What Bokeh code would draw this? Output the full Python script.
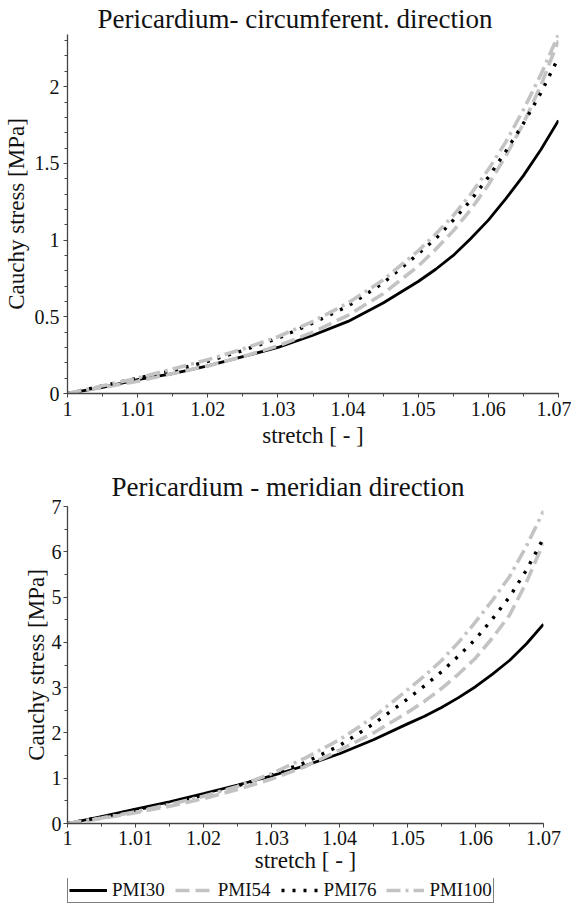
from bokeh.plotting import figure
from bokeh.models import Legend, LegendItem, Range1d, SingleIntervalTicker
from bokeh.layouts import column
from bokeh.embed import file_html
from bokeh.resources import INLINE

# ---------------- data ----------------
stretch = [1.0, 1.005, 1.01, 1.015, 1.02, 1.025, 1.03, 1.035, 1.04, 1.045,
           1.05, 1.0525, 1.055, 1.0575, 1.06, 1.0625, 1.065, 1.0675, 1.07]

# circumferential direction
circ_pmi30 = [0.0, 0.04, 0.09, 0.13, 0.18, 0.24, 0.30, 0.38, 0.47, 0.59,
              0.73, 0.81, 0.90, 1.01, 1.13, 1.27, 1.42, 1.59, 1.78]
circ_pmi54 = [0.0, 0.04, 0.08, 0.13, 0.18, 0.24, 0.31, 0.40, 0.51, 0.65,
              0.83, 0.94, 1.06, 1.20, 1.36, 1.55, 1.76, 2.01, 2.30]
circ_pmi76 = [0.0, 0.05, 0.10, 0.15, 0.21, 0.28, 0.36, 0.46, 0.57, 0.72,
              0.91, 1.01, 1.13, 1.26, 1.41, 1.58, 1.76, 1.96, 2.19]
circ_pmi100 = [0.0, 0.05, 0.10, 0.16, 0.22, 0.29, 0.37, 0.47, 0.59, 0.74,
               0.93, 1.04, 1.16, 1.30, 1.46, 1.64, 1.85, 2.08, 2.34]

# meridian direction
mer_pmi30 = [0.0, 0.15, 0.32, 0.48, 0.66, 0.85, 1.05, 1.28, 1.54, 1.85,
             2.20, 2.37, 2.56, 2.78, 3.02, 3.30, 3.60, 3.97, 4.40]
mer_pmi54 = [0.0, 0.11, 0.24, 0.38, 0.55, 0.75, 0.98, 1.26, 1.62, 2.00,
             2.45, 2.70, 2.98, 3.30, 3.65, 4.10, 4.60, 5.33, 6.20]
mer_pmi76 = [0.0, 0.14, 0.30, 0.46, 0.63, 0.83, 1.07, 1.35, 1.72, 2.20,
             2.75, 3.04, 3.35, 3.70, 4.07, 4.52, 5.00, 5.60, 6.30]
mer_pmi100 = [0.0, 0.12, 0.26, 0.42, 0.60, 0.82, 1.10, 1.45, 1.85, 2.35,
              2.95, 3.26, 3.60, 4.00, 4.45, 4.93, 5.45, 6.13, 6.90]

series_names = ["PMI30", "PMI54", "PMI76", "PMI100"]

title_top = "Pericardium- circumferent. direction"
title_bottom = "Pericardium - meridian direction"
x_label = "stretch [ - ]"
y_label = "Cauchy stress [MPa]"

# ---------------- styles ----------------
FONT = "Liberation Serif"
TXT = "#111111"
GRAY = "#c3c3c3"
styles = [
    dict(line_color="black", line_width=2.8, line_dash="solid"),
    dict(line_color=GRAY, line_width=3.6, line_dash="14 6"),
    dict(line_color="black", line_width=3.4, line_dash="3 8"),
    dict(line_color=GRAY, line_width=3.6, line_dash="14 5 3 5"),
]


def style_axes(p, y_major, y_minor_n, ylab_standoff, yaxlab_standoff,
               xlab_standoff, xaxlab_standoff):
    p.outline_line_color = None
    p.xgrid.visible = False
    p.ygrid.visible = False
    p.xaxis.ticker = SingleIntervalTicker(interval=0.01, num_minor_ticks=2)
    p.yaxis.ticker = SingleIntervalTicker(interval=y_major, num_minor_ticks=y_minor_n)
    p.xaxis.major_label_overrides = {1.0: "1"}
    for ax in (p.xaxis[0], p.yaxis[0]):
        ax.axis_line_color = "#444444"
        ax.axis_line_width = 1.3
        ax.major_tick_line_color = "#444444"
        ax.minor_tick_line_color = "#444444"
        ax.major_tick_out = 4
        ax.major_tick_in = 0
        ax.minor_tick_out = 3
        ax.minor_tick_in = 0
        ax.major_label_text_font = FONT
        ax.major_label_text_font_size = "20px"
        ax.major_label_text_color = TXT
        ax.axis_label_text_font = FONT
        ax.axis_label_text_font_size = "23px"
        ax.axis_label_text_font_style = "normal"
        ax.axis_label_text_color = TXT
    p.xaxis.axis_label = x_label
    p.yaxis.axis_label = y_label
    p.xaxis.major_label_standoff = xlab_standoff
    p.yaxis.major_label_standoff = ylab_standoff
    p.xaxis.axis_label_standoff = xaxlab_standoff
    p.yaxis.axis_label_standoff = yaxlab_standoff
    p.yaxis.major_label_orientation = "horizontal"


def style_title(p, text, offset, standoff):
    p.title.text = text
    p.title.text_font = FONT
    p.title.text_font_size = "27px"
    p.title.text_font_style = "normal"
    p.title.text_color = TXT
    p.title.align = "left"
    p.title.offset = offset
    p.title.standoff = standoff


# ---------------- top figure ----------------
p1 = figure(frame_width=491, frame_height=359, output_backend="svg", toolbar_location=None,
            x_range=Range1d(1.0, 1.07), y_range=Range1d(0, 2.34),
            min_border_left=64, min_border_right=13, min_border_top=34,
            min_border_bottom=60)
style_title(p1, title_top, 30, 2)
style_axes(p1, 0.5, 5, 4, 3, 4, 4)
for ys, st in zip([circ_pmi30, circ_pmi54, circ_pmi76, circ_pmi100], styles):
    p1.line(stretch, ys, **st)

# ---------------- bottom figure ----------------
p2 = figure(frame_width=476, frame_height=317, output_backend="svg", toolbar_location=None,
            x_range=Range1d(1.0, 1.07), y_range=Range1d(0, 7),
            min_border_left=38, min_border_right=43, min_border_top=53,
            min_border_bottom=55)
style_title(p2, title_bottom, 44, 9)
style_axes(p2, 1, 2, 2, 0, 3, 0)
for ys, st in zip([mer_pmi30, mer_pmi54, mer_pmi76, mer_pmi100], styles):
    p2.line(stretch, ys, **st)

# ---------------- legend strip ----------------
p3 = figure(width=568, height=25, output_backend="svg", toolbar_location=None,
            x_axis_location=None, y_axis_location=None, title_location=None,
            x_range=Range1d(0, 1), y_range=Range1d(0, 1),
            min_border=0, min_border_left=0, min_border_right=0,
            min_border_top=0, min_border_bottom=0)
p3.outline_line_color = None
p3.xgrid.visible = False
p3.ygrid.visible = False
# legend proxies only (a single missing point each, nothing is drawn)
legend_renderers = [p3.line(x=[float("nan")], y=[float("nan")], **st) for st in styles]
legend = Legend(items=[LegendItem(label=n, renderers=[r])
                       for n, r in zip(series_names, legend_renderers)],
                orientation="horizontal", location=(0, 0),
                label_text_font=FONT, label_text_font_size="19px", label_text_color=TXT,
                border_line_color="black", border_line_width=1.2,
                background_fill_alpha=1.0,
                glyph_width=38, glyph_height=14, label_standoff=5, spacing=10,
                padding=1, margin=0, label_height=16)
p3.add_layout(legend)

layout = column(p1, p2, p3, spacing=0)
open("out.html", "w").write(file_html(layout, INLINE))
